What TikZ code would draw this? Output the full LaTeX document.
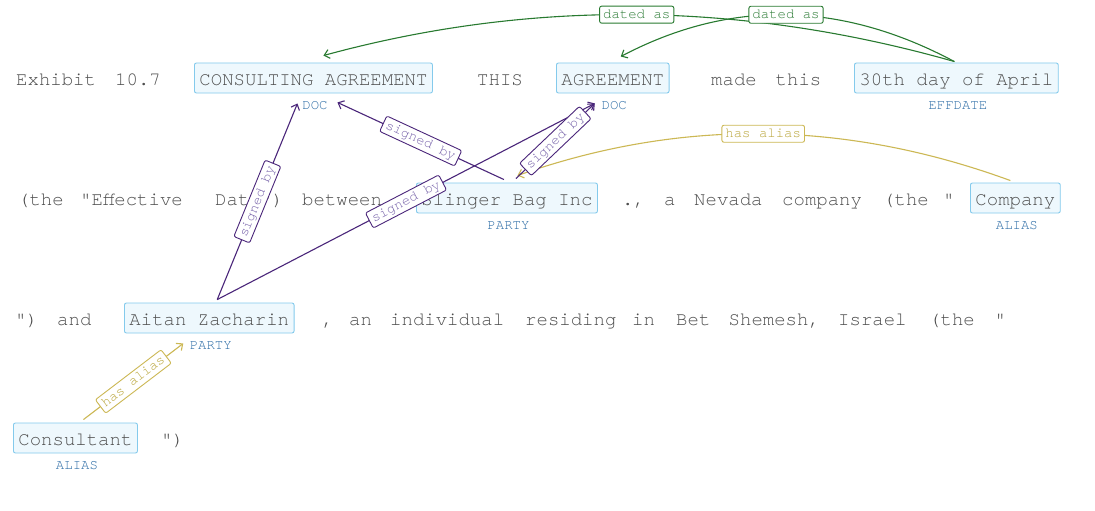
\documentclass[tikz,border=0pt]{standalone}
\usepackage{fontspec}
\newfontfamily\monof{TeX Gyre Cursor}
\usetikzlibrary{arrows.meta,calc}
\definecolor{txt}{RGB}{78,78,78}
\definecolor{entb}{RGB}{132,202,236}
\definecolor{entf}{RGB}{238,248,253}
\definecolor{typc}{RGB}{44,108,166}
\definecolor{grn}{RGB}{40,122,48}
\definecolor{grnl}{RGB}{44,124,54}
\definecolor{pur}{RGB}{74,38,122}
\definecolor{purl}{RGB}{122,102,172}
\definecolor{yel}{RGB}{204,184,84}
\definecolor{yell}{RGB}{186,166,60}
\tikzset{
  word/.style={font=\monof\fontsize{19}{22}\selectfont, text=txt, inner xsep=0pt, inner ysep=5pt, text height=17pt, text depth=3pt, anchor=west},
  ent/.style={word, draw=entb, fill=entf, rounded corners=2pt, line width=0.9pt, inner xsep=5pt},
  typ/.style={font=\monof\fontsize{14}{16}\selectfont, text=typc, inner sep=0pt},
  lab/.style={font=\monof\fontsize{14}{16}\selectfont, fill=white, rounded corners=2pt, line width=0.9pt, inner xsep=3.5pt, inner ysep=2pt, text height=10pt, text depth=3pt},
  glab/.style={lab, draw=grn, text=grnl},
  plab/.style={lab, draw=pur, text=purl},
  ylab/.style={lab, draw=yel, text=yell},
  tip/.style={-{Straight Barb[length=5pt,width=9pt]}},
  gedge/.style={draw=grn, line width=1.1pt, tip},
  pedge/.style={draw=pur, line width=1.1pt, tip},
  yedge/.style={draw=yel, line width=1.1pt, tip}
}
\begin{document}
\begin{tikzpicture}[x=1pt,y=-1pt]
\useasboundingbox (0,0) rectangle (1095,511);
\fill[white] (0,0) rectangle (1095,511);
% line 1
\node[word] (w1) at (16,78) {Exhibit};
\node[word] (w2) at (115,78) {10.7};
\node[ent] (ca) at (194,78) {CONSULTING AGREEMENT};
\node[word] (w3) at (477,78) {THIS};
\node[ent] (ag) at (556,78) {AGREEMENT};
\node[word] (w4) at (711,78) {made};
\node[word] (w5) at (775.5,78) {this};
\node[ent] (dt) at (854,78) {30th day of April};
% line 2
\node[word] (w6) at (18,198) {(the};
\node[word] (w7) at (80,198) {"Effective};
\node[word] (w8) at (215,198) {Date")};
\node[word] (w9) at (302,198) {between};
\node[ent] (sb) at (416,198) {Slinger Bag Inc};
\node[word] (w10) at (622,198) {.,};
\node[word] (w11) at (664,198) {a};
\node[word] (w12) at (694,198) {Nevada};
\node[word] (w13) at (782,198) {company};
\node[word] (w14) at (883,198) {(the};
\node[word] (w15) at (943,198) {"};
\node[ent] (co) at (970,198) {Company};
% line 3
\node[word] (w16) at (15,318) {")};
\node[word] (w17) at (57,318) {and};
\node[ent] (az) at (124,318) {Aitan Zacharin};
\node[word] (w18) at (322,318) {,};
\node[word] (w19) at (349,318) {an};
\node[word] (w20) at (390,318) {individual};
\node[word] (w21) at (525,318) {residing};
\node[word] (w22) at (632,318) {in};
\node[word] (w23) at (676,318) {Bet};
\node[word] (w24) at (728.5,318) {Shemesh,};
\node[word] (w25) at (838,318) {Israel};
\node[word] (w26) at (929,318) {(the};
\node[word] (w27) at (994.5,318) {"};
% line 4
\node[ent] (cn) at (13,438) {Consultant};
\node[word] (w28) at (161,438) {")};
% type labels
\node[typ] (tca) at ($(ca.south)+(1.5,12)$) {DOC};
\node[typ] (tag) at ($(ag.south)+(1.5,12)$) {DOC};
\node[typ] (tdt) at ($(dt.south)+(1.5,12)$) {EFFDATE};
\node[typ] (tsb) at ($(sb.south)+(1.5,12)$) {PARTY};
\node[typ] (tco) at ($(co.south)+(1.5,12)$) {ALIAS};
\node[typ] (taz) at ($(az.south)+(1.5,12)$) {PARTY};
\node[typ] (tcn) at ($(cn.south)+(1.5,12)$) {ALIAS};
% edges
\draw[gedge] ($(dt.north)+(-2,-1)$) .. controls (741,1) and (531,-1) .. ($(ca.north)+(10,-7)$) node[glab,pos=0.5] {dated as};
\draw[gedge] ($(dt.north)+(-2,-1)$) .. controls (841,1) and (730,-1) .. ($(ag.north)+(8,-6)$) node[glab,pos=0.5] {dated as};
\draw[yedge] ($(co.north)+(-5,-2)$) .. controls (845,120) and (681,118) .. ($(sb.north)+(10.5,-7)$) node[ylab,pos=0.5] {has alias};
\draw[yedge] ($(cn.north)+(8,-3)$) -- ($(az.south)+(-26,10)$) node[ylab,pos=0.5,sloped] {has alias};
\draw[pedge] ($(az.north)+(8,-3)$) -- ($(ca.south)+(-16,10)$) node[plab,pos=0.5,sloped] {signed by};
\draw[pedge] ($(az.north)+(8,-3)$) -- ($(ag.south)+(-18,10)$) node[plab,pos=0.5,sloped] {signed by};
\draw[pedge] ($(sb.north)+(-3,-3)$) -- ($(ca.south)+(24,9)$) node[plab,pos=0.5,sloped] {signed by};
\draw[pedge] ($(sb.north)+(9,-4)$) -- ($(ag.south)+(-18,10)$) node[plab,pos=0.5,sloped] {signed by};
\end{tikzpicture}
\end{document}
